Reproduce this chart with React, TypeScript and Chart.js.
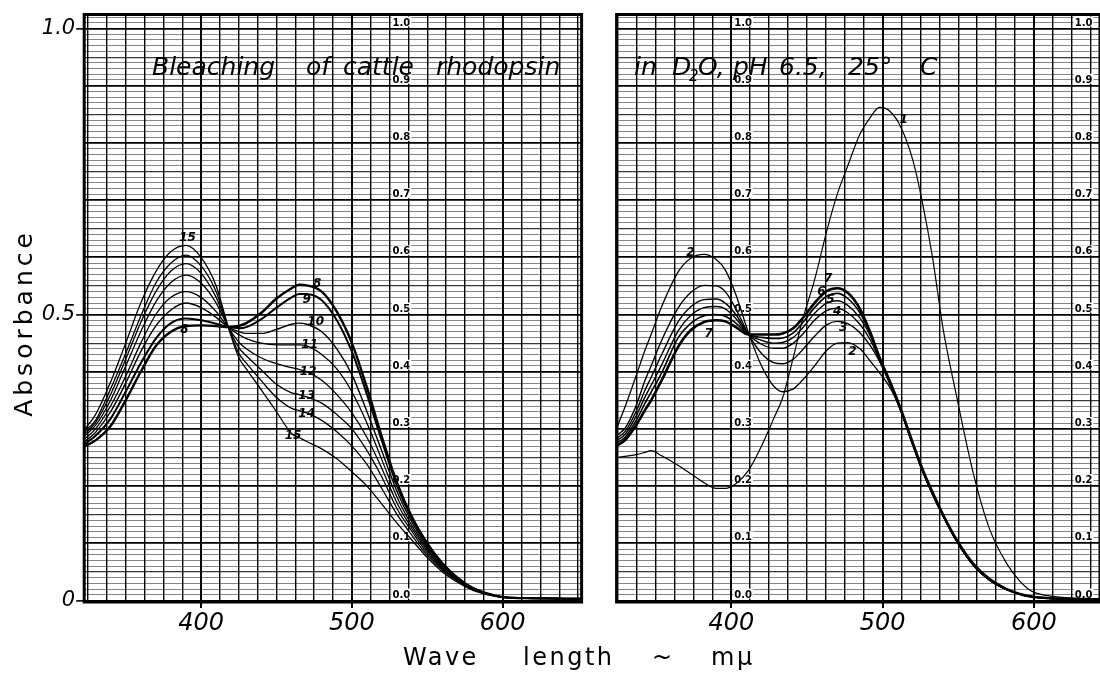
import React, { useEffect, useRef } from 'react';
import { Chart, registerables } from 'chart.js';

Chart.register(...registerables);

const FONT = '"DejaVu Sans", "Noto Sans", sans-serif';

// ---------------- data: left panel (curves 8 - 15) ----------------
const LEFT_WL = [323, 330, 340, 350, 360, 370, 380, 390, 400, 410, 418, 425, 430, 440, 450, 460, 465, 470, 480, 490, 500, 510, 520, 530, 540, 550, 560, 570, 580, 590, 600, 620, 652];
const CURVE_8 = [0.270, 0.280, 0.305, 0.350, 0.400, 0.445, 0.470, 0.480, 0.481, 0.480, 0.478, 0.480, 0.485, 0.503, 0.528, 0.546, 0.552, 0.551, 0.540, 0.505, 0.450, 0.372, 0.285, 0.205, 0.145, 0.100, 0.065, 0.040, 0.022, 0.012, 0.006, 0.004, 0.003];
const CURVE_9 = [0.274, 0.288, 0.318, 0.365, 0.415, 0.458, 0.485, 0.493, 0.490, 0.484, 0.478, 0.476, 0.478, 0.492, 0.512, 0.530, 0.536, 0.536, 0.525, 0.490, 0.435, 0.360, 0.278, 0.200, 0.142, 0.097, 0.063, 0.039, 0.021, 0.012, 0.006, 0.004, 0.003];
const CURVE_10 = [0.278, 0.294, 0.330, 0.380, 0.435, 0.480, 0.508, 0.520, 0.512, 0.495, 0.478, 0.470, 0.467, 0.467, 0.474, 0.483, 0.485, 0.483, 0.470, 0.440, 0.395, 0.330, 0.260, 0.190, 0.136, 0.093, 0.061, 0.038, 0.021, 0.012, 0.006, 0.004, 0.003];
const CURVE_11 = [0.283, 0.300, 0.340, 0.392, 0.450, 0.500, 0.530, 0.540, 0.530, 0.505, 0.478, 0.465, 0.458, 0.450, 0.447, 0.447, 0.447, 0.445, 0.430, 0.405, 0.365, 0.310, 0.245, 0.180, 0.130, 0.090, 0.059, 0.037, 0.020, 0.011, 0.006, 0.004, 0.003];
const CURVE_12 = [0.288, 0.306, 0.350, 0.410, 0.470, 0.522, 0.556, 0.569, 0.555, 0.520, 0.478, 0.452, 0.440, 0.424, 0.414, 0.407, 0.404, 0.400, 0.385, 0.360, 0.328, 0.285, 0.230, 0.170, 0.125, 0.087, 0.057, 0.036, 0.020, 0.011, 0.006, 0.004, 0.003];
const CURVE_13 = [0.292, 0.311, 0.360, 0.422, 0.486, 0.540, 0.576, 0.589, 0.572, 0.530, 0.478, 0.442, 0.428, 0.403, 0.378, 0.363, 0.360, 0.356, 0.345, 0.325, 0.300, 0.262, 0.215, 0.160, 0.120, 0.083, 0.055, 0.035, 0.019, 0.011, 0.006, 0.004, 0.003];
const CURVE_14 = [0.296, 0.315, 0.370, 0.432, 0.497, 0.555, 0.590, 0.604, 0.585, 0.540, 0.478, 0.432, 0.415, 0.384, 0.355, 0.336, 0.332, 0.328, 0.315, 0.295, 0.270, 0.238, 0.195, 0.150, 0.113, 0.079, 0.053, 0.034, 0.019, 0.011, 0.006, 0.004, 0.003];
const CURVE_15 = [0.300, 0.325, 0.382, 0.450, 0.520, 0.575, 0.610, 0.621, 0.600, 0.550, 0.478, 0.425, 0.405, 0.368, 0.330, 0.292, 0.285, 0.278, 0.265, 0.248, 0.225, 0.200, 0.168, 0.135, 0.105, 0.075, 0.050, 0.032, 0.018, 0.010, 0.006, 0.004, 0.003];

// ---------------- data: right panel (curves 1 - 7) ----------------
const RIGHT_WL = [324, 330, 337, 343, 347, 354, 365, 373, 382, 390, 396, 403, 411.5, 420, 428, 434, 441, 447, 455, 463, 470, 477, 485, 492, 498, 505, 512, 520, 526, 533, 540, 549, 560, 571, 582, 590, 598, 610, 626, 644];
const CURVE_1 = [0.250, 0.252, 0.255, 0.259, 0.262, 0.253, 0.236, 0.222, 0.206, 0.196, 0.196, 0.204, 0.228, 0.270, 0.318, 0.355, 0.425, 0.490, 0.560, 0.645, 0.710, 0.760, 0.815, 0.845, 0.862, 0.855, 0.828, 0.770, 0.700, 0.600, 0.475, 0.356, 0.222, 0.123, 0.065, 0.036, 0.017, 0.008, 0.004, 0.002];
const CURVE_2 = [0.300, 0.340, 0.392, 0.438, 0.465, 0.514, 0.575, 0.598, 0.605, 0.596, 0.578, 0.535, 0.467, 0.410, 0.375, 0.365, 0.370, 0.385, 0.410, 0.437, 0.450, 0.451, 0.440, 0.418, 0.398, 0.372, 0.333, 0.273, 0.230, 0.187, 0.148, 0.104, 0.062, 0.035, 0.019, 0.012, 0.007, 0.004, 0.003, 0.002];
const CURVE_3 = [0.288, 0.302, 0.340, 0.385, 0.410, 0.455, 0.512, 0.538, 0.551, 0.550, 0.540, 0.510, 0.465, 0.432, 0.416, 0.414, 0.422, 0.438, 0.462, 0.482, 0.488, 0.484, 0.468, 0.445, 0.418, 0.377, 0.331, 0.271, 0.228, 0.185, 0.147, 0.103, 0.061, 0.035, 0.019, 0.012, 0.007, 0.004, 0.003, 0.002];
const CURVE_4 = [0.283, 0.296, 0.330, 0.368, 0.390, 0.430, 0.488, 0.513, 0.526, 0.527, 0.520, 0.500, 0.465, 0.448, 0.441, 0.441, 0.450, 0.465, 0.490, 0.507, 0.511, 0.503, 0.483, 0.455, 0.420, 0.379, 0.332, 0.272, 0.229, 0.186, 0.148, 0.104, 0.062, 0.035, 0.019, 0.012, 0.007, 0.004, 0.003, 0.002];
const CURVE_5 = [0.279, 0.291, 0.322, 0.356, 0.376, 0.412, 0.472, 0.498, 0.512, 0.514, 0.510, 0.493, 0.465, 0.455, 0.450, 0.451, 0.460, 0.476, 0.502, 0.520, 0.524, 0.516, 0.494, 0.462, 0.422, 0.380, 0.333, 0.273, 0.230, 0.187, 0.148, 0.104, 0.062, 0.035, 0.019, 0.012, 0.007, 0.004, 0.003, 0.002];
const CURVE_6 = [0.275, 0.286, 0.314, 0.345, 0.364, 0.398, 0.460, 0.484, 0.498, 0.500, 0.497, 0.485, 0.465, 0.460, 0.458, 0.459, 0.468, 0.485, 0.512, 0.532, 0.537, 0.528, 0.503, 0.466, 0.424, 0.381, 0.334, 0.274, 0.231, 0.188, 0.149, 0.105, 0.063, 0.036, 0.020, 0.012, 0.007, 0.004, 0.003, 0.002];
const CURVE_7 = [0.270, 0.281, 0.306, 0.333, 0.350, 0.385, 0.444, 0.472, 0.487, 0.490, 0.488, 0.478, 0.465, 0.465, 0.465, 0.467, 0.476, 0.493, 0.520, 0.541, 0.546, 0.538, 0.510, 0.468, 0.425, 0.382, 0.335, 0.275, 0.232, 0.189, 0.150, 0.106, 0.064, 0.037, 0.020, 0.012, 0.007, 0.004, 0.003, 0.002];

// ---------------- curve number annotations ----------------
const LEFT_NUM_TEXT = ['15', '8', '8', '9', '10', '11', '12', '13', '14', '15'];
const LEFT_NUM_X = [391, 389, 477, 470, 476, 472, 471, 470, 470, 461];
const LEFT_NUM_Y = [0.634, 0.474, 0.553, 0.525, 0.487, 0.447, 0.400, 0.357, 0.327, 0.288];
const RIGHT_NUM_TEXT = ['2', '7', '1', '7', '6', '5', '4', '3', '2'];
const RIGHT_NUM_X = [373, 385, 514, 464, 459.5, 465.5, 470, 474, 480];
const RIGHT_NUM_Y = [0.607, 0.467, 0.840, 0.562, 0.540, 0.525, 0.505, 0.476, 0.435];

// ---------------- axes ----------------
const Y_MIN = -0.0026;
const Y_MAX = 1.0245;
const Y_LABEL_VALUES = [0, 0.5, 1.0];
const Y_LABEL_TEXT = ['0', '0.5', '1.0'];
const X_LABEL_VALUES = [400, 500, 600];
const X_LABEL_TEXT = ['400', '500', '600'];
const INNER_VALUES = [0, 0.1, 0.2, 0.3, 0.4, 0.5, 0.6, 0.7, 0.8, 0.9, 1.0];
const INNER_TEXT = ['0.0', '0.1', '0.2', '0.3', '0.4', '0.5', '0.6', '0.7', '0.8', '0.9', '1.0'];
const Y_TITLE = 'Absorbance';
const X_TITLE_WORDS = ['Wave', 'length', '~', 'mμ'];
const X_TITLE_LEFT = [403, 523, 652, 711];

const Y_GRID: number[] = [];
for (let k = 0; k <= 102; k++) Y_GRID.push(k / 100);

function xGrid(min: number, max: number) {
  const out: number[] = [];
  for (let v = 325; v <= max; v += 12.5) if (v >= min) out.push(v);
  return out;
}

const near = (a: number, b: number) => Math.abs(a - b) < 1e-6;

type TitleItem = { text: string; x: number; size?: number; dy?: number };

type Panel = {
  wl: number[];
  series: { label: string; data: number[]; width: number }[];
  xMin: number;
  xMax: number;
  yAxisWidth: number;
  padRight: number;
  showYLabels: boolean;
  innerCols: number[];
  title: TitleItem[];
  numText: string[];
  numX: number[];
  numY: number[];
  yTitle: boolean;
};

const LEFT_PANEL: Panel = {
  wl: LEFT_WL,
  series: [
    { label: '15', data: CURVE_15, width: 1.3 },
    { label: '14', data: CURVE_14, width: 1.3 },
    { label: '13', data: CURVE_13, width: 1.3 },
    { label: '12', data: CURVE_12, width: 1.3 },
    { label: '11', data: CURVE_11, width: 1.3 },
    { label: '10', data: CURVE_10, width: 1.4 },
    { label: '9', data: CURVE_9, width: 2.0 },
    { label: '8', data: CURVE_8, width: 2.4 },
  ],
  xMin: 322.5,
  xMax: 652.3,
  yAxisWidth: 84.2,
  padRight: 8.4,
  showYLabels: true,
  innerCols: [525],
  title: [
    { text: 'Bleaching', x: 152 },
    { text: 'of', x: 306 },
    { text: 'cattle', x: 343 },
    { text: 'rhodopsin', x: 436 },
  ],
  numText: LEFT_NUM_TEXT,
  numX: LEFT_NUM_X,
  numY: LEFT_NUM_Y,
  yTitle: true,
};

const RIGHT_PANEL: Panel = {
  wl: RIGHT_WL,
  series: [
    { label: '1', data: CURVE_1, width: 1.2 },
    { label: '2', data: CURVE_2, width: 1.3 },
    { label: '3', data: CURVE_3, width: 1.4 },
    { label: '4', data: CURVE_4, width: 1.4 },
    { label: '5', data: CURVE_5, width: 1.4 },
    { label: '6', data: CURVE_6, width: 1.6 },
    { label: '7', data: CURVE_7, width: 2.6 },
  ],
  xMin: 324.2,
  xMax: 643.7,
  yAxisWidth: 26.6,
  padRight: 0,
  showYLabels: false,
  innerCols: [400, 625],
  title: [
    { text: 'in', x: 44 },
    { text: 'D', x: 82 },
    { text: '2', x: 99, size: 15, dy: 6 },
    { text: 'O,', x: 108 },
    { text: 'pH', x: 143 },
    { text: '6.5,', x: 189 },
    { text: '25°', x: 258 },
    { text: 'C', x: 330 },
  ],
  numText: RIGHT_NUM_TEXT,
  numX: RIGHT_NUM_X,
  numY: RIGHT_NUM_Y,
  yTitle: false,
};

function makeDecor(p: Panel) {
  return {
    id: 'decor',
    beforeDatasetsDraw(chart: any) {
      const { ctx, scales } = chart;
      const xs = scales.x;
      const ys = scales.y;
      ctx.save();
      // small printed scale numbers of the chart paper
      ctx.font = `bold 10px ${FONT}`;
      ctx.textAlign = 'left';
      ctx.textBaseline = 'alphabetic';
      for (const col of p.innerCols) {
        const x = xs.getPixelForValue(col) + 3;
        INNER_VALUES.forEach((v, i) => {
          const y = ys.getPixelForValue(v) - 3;
          const t = INNER_TEXT[i];
          const w = ctx.measureText(t).width;
          ctx.fillStyle = '#fff';
          ctx.fillRect(x - 1, y - 9, w + 2, 10);
          ctx.fillStyle = '#000';
          ctx.fillText(t, x, y);
        });
      }
      // handwritten title
      ctx.fillStyle = '#000';
      for (const it of p.title) {
        ctx.font = `italic ${it.size || 25}px ${FONT}`;
        ctx.fillText(it.text, it.x, 75 + (it.dy || 0));
      }
      ctx.restore();
    },
    afterDatasetsDraw(chart: any) {
      const { ctx, chartArea: ca, scales } = chart;
      const xs = scales.x;
      const ys = scales.y;
      ctx.save();
      // curve numbers
      ctx.font = `bold italic 12px ${FONT}`;
      ctx.textAlign = 'center';
      ctx.textBaseline = 'middle';
      ctx.fillStyle = '#000';
      p.numText.forEach((t, i) => {
        ctx.fillText(t, xs.getPixelForValue(p.numX[i]), ys.getPixelForValue(p.numY[i]));
      });
      // frame
      ctx.strokeStyle = '#000';
      ctx.lineWidth = 3;
      ctx.strokeRect(ca.left, ca.top, ca.right - ca.left, ca.bottom - ca.top);
      // y title
      if (p.yTitle) {
        ctx.translate(25, 323);
        ctx.rotate(-Math.PI / 2);
        ctx.font = `25px ${FONT}`;
        try { (ctx as any).letterSpacing = '4px'; } catch (e) { /* ignore */ }
        ctx.textAlign = 'center';
        ctx.textBaseline = 'middle';
        ctx.fillText(Y_TITLE, 0, 0);
      }
      ctx.restore();
    },
  };
}

function buildConfig(p: Panel): any {
  const xTicks = xGrid(p.xMin, p.xMax);
  return {
    type: 'line',
    data: {
      datasets: p.series.map((s) => ({
        label: s.label,
        data: p.wl.map((x, i) => ({ x, y: s.data[i] })),
        borderColor: '#000',
        borderWidth: s.width,
        pointRadius: 0,
        fill: false,
        cubicInterpolationMode: 'monotone',
      })),
    },
    options: {
      responsive: false,
      maintainAspectRatio: false,
      animation: false,
      devicePixelRatio: 1,
      layout: { padding: { top: 14.5, right: p.padRight, bottom: 0, left: 0 } },
      plugins: { legend: { display: false }, tooltip: { enabled: false } },
      scales: {
        x: {
          type: 'linear',
          min: p.xMin,
          max: p.xMax,
          afterBuildTicks: (s: any) => { s.ticks = xTicks.map((v) => ({ value: v })); },
          afterFit: (s: any) => { s.height = 43; },
          border: { display: false },
          grid: {
            color: '#000',
            lineWidth: (c: any) => (c.tick && c.tick.value % 100 === 0 ? 2 : 1.4),
            tickLength: 6,
            tickWidth: 2,
            tickColor: (c: any) => (c.tick && X_LABEL_VALUES.some((v) => near(v, c.tick.value)) ? '#000' : 'rgba(0,0,0,0)'),
          },
          ticks: {
            autoSkip: false,
            maxRotation: 0,
            minRotation: 0,
            padding: 1.5,
            color: '#000',
            font: { family: FONT, size: 24, style: 'italic' },
            callback: (v: number) => {
              const i = X_LABEL_VALUES.findIndex((m) => near(m, v));
              return i >= 0 ? X_LABEL_TEXT[i] : '';
            },
          },
        },
        y: {
          type: 'linear',
          min: Y_MIN,
          max: Y_MAX,
          afterBuildTicks: (s: any) => { s.ticks = Y_GRID.map((v) => ({ value: v })); },
          afterFit: (s: any) => { s.width = p.yAxisWidth; },
          border: { display: false },
          grid: {
            color: (c: any) => {
              if (!c.tick) return 'rgba(0,0,0,0.45)';
              const k = Math.round(c.tick.value * 100);
              if (k % 10 === 0) return '#000';
              if (k % 5 === 0) return 'rgba(0,0,0,0.78)';
              return 'rgba(0,0,0,0.48)';
            },
            lineWidth: (c: any) => {
              if (!c.tick) return 1;
              const k = Math.round(c.tick.value * 100);
              if (k % 10 === 0) return 1.8;
              if (k % 5 === 0) return 1.2;
              return 1;
            },
            drawTicks: p.showYLabels,
            tickLength: 8,
            tickWidth: 1.6,
            tickColor: (c: any) => (c.tick && Y_LABEL_VALUES.some((v) => near(v, c.tick.value)) ? '#000' : 'rgba(0,0,0,0)'),
          },
          ticks: {
            display: p.showYLabels,
            autoSkip: false,
            padding: 1,
            color: '#000',
            font: { family: FONT, size: 21, style: 'italic' },
            callback: (v: number) => {
              const i = Y_LABEL_VALUES.findIndex((m) => near(m, v));
              return i >= 0 ? Y_LABEL_TEXT[i] : '';
            },
          },
        },
      },
    },
    plugins: [makeDecor(p)],
  };
}

export default function App() {
  const leftRef = useRef<HTMLCanvasElement>(null);
  const rightRef = useRef<HTMLCanvasElement>(null);

  useEffect(() => {
    const c1 = new Chart(leftRef.current as HTMLCanvasElement, buildConfig(LEFT_PANEL));
    const c2 = new Chart(rightRef.current as HTMLCanvasElement, buildConfig(RIGHT_PANEL));
    return () => {
      c1.destroy();
      c2.destroy();
    };
  }, []);

  return (
    <div style={{ position: 'absolute', left: 0, top: 0, width: 1100, height: 673, background: '#fff', overflow: 'hidden' }}>
      <canvas ref={leftRef} width={590} height={645} style={{ position: 'absolute', left: 0, top: 0, width: 590, height: 645 }} />
      <canvas ref={rightRef} width={510} height={645} style={{ position: 'absolute', left: 590, top: 0, width: 510, height: 645 }} />
      {X_TITLE_WORDS.map((w, i) => (
        <span
          key={i}
          style={{
            position: 'absolute',
            left: X_TITLE_LEFT[i],
            top: 645,
            fontFamily: FONT,
            fontSize: 24,
            lineHeight: '24px',
            letterSpacing: '2.5px',
            color: '#000',
            whiteSpace: 'pre',
          }}
        >
          {w}
        </span>
      ))}
    </div>
  );
}
